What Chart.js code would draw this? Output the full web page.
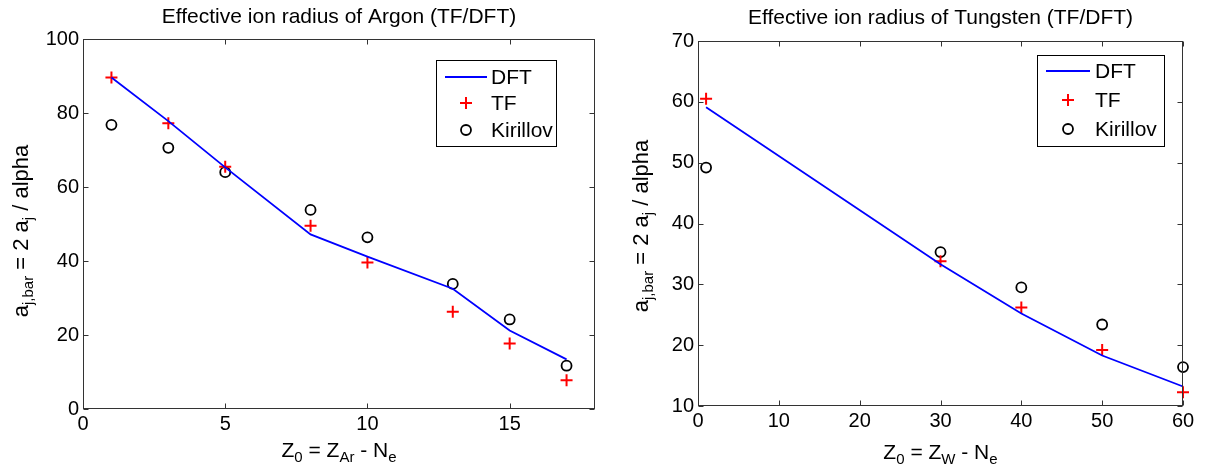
<!DOCTYPE html>
<html>
<head>
<meta charset="utf-8">
<script src="https://cdn.jsdelivr.net/npm/chart.js@4.4.1/dist/chart.umd.min.js"></script>
<style>
  html, body { margin: 0; padding: 0; background: #fff; }
  #wrap { position: relative; width: 1207px; height: 471px; overflow: hidden; background: #fff; }
  canvas { position: absolute; top: 0; }
</style>
</head>
<body>
<div id="wrap">
  <canvas id="argon" width="603" height="471" style="left:0px"></canvas>
  <canvas id="tungsten" width="604" height="471" style="left:603px"></canvas>
</div>
<script>
// ---- Argon: effective ion radius vs. ionisation degree ----
const zArgon      = [1, 3, 5, 8, 10, 13, 15, 17];
const dftArgon    = [89.6, 77.8, 65.3, 47.2, 41.2, 32.5, 21.2, 13.4];
const tfArgon     = [89.6, 77.2, 65.5, 49.5, 39.6, 26.3, 17.7, 7.8];
const kirArgon    = [76.8, 70.6, 64.0, 53.8, 46.4, 33.8, 24.2, 11.7];
const xTicksArgon = [0, 5, 10, 15];
const yTicksArgon = [0, 20, 40, 60, 80, 100];

// ---- Tungsten ----
const zTungsten      = [1, 30, 40, 50, 60];
const dftTungsten    = [59.1, 33.3, 25.2, 18.3, 13.2];
const tfTungsten     = [60.5, 33.8, 26.2, 19.2, 12.25];
const kirTungsten    = [49.2, 35.3, 29.5, 23.4, 16.4];
const xTicksTungsten = [0, 10, 20, 30, 40, 50, 60];
const yTicksTungsten = [10, 20, 30, 40, 50, 60, 70];

const seriesNames = ['DFT', 'TF', 'Kirillov'];

const FONT = '"Liberation Sans", Arial, Helvetica, sans-serif';
const AXIS_COLOR = '#333333';

// Draw a run of text pieces, some of them as subscripts, centred on (0, 0) baseline.
function drawRich(ctx, parts, size, subSize, subShift) {
  const widths = parts.map(p => {
    ctx.font = (p.sub ? subSize : size) + 'px ' + FONT;
    return ctx.measureText(p.t).width;
  });
  const total = widths.reduce((s, w) => s + w, 0);
  let x = -total / 2;
  ctx.textAlign = 'left';
  ctx.textBaseline = 'alphabetic';
  parts.forEach((p, i) => {
    ctx.font = (p.sub ? subSize : size) + 'px ' + FONT;
    ctx.fillText(p.t, x, p.sub ? subShift : 0);
    x += widths[i];
  });
}

const frameDeco = {
  id: 'frameDeco',
  afterDatasetsDraw(chart, args, o) {
    const { ctx, chartArea: a, scales } = chart;
    const xs = scales.x, ys = scales.y;
    const L = Math.round(a.left) + 0.5, R = Math.round(a.right) - 0.5;
    const T = Math.round(a.top) + 0.5, B = Math.round(a.bottom) - 0.5;
    ctx.save();
    ctx.strokeStyle = AXIS_COLOR;
    ctx.lineWidth = 1;
    ctx.strokeRect(L, T, R - L, B - T);

    // inward tick marks on all four sides
    const tl = 5;
    ctx.beginPath();
    xs.ticks.forEach(t => {
      const px = Math.round(xs.getPixelForValue(t.value)) + 0.5;
      ctx.moveTo(px, B); ctx.lineTo(px, B - tl);
      ctx.moveTo(px, T); ctx.lineTo(px, T + tl);
    });
    ys.ticks.forEach(t => {
      const py = Math.round(ys.getPixelForValue(t.value)) + 0.5;
      ctx.moveTo(L, py); ctx.lineTo(L + tl, py);
      ctx.moveTo(R, py); ctx.lineTo(R - tl, py);
    });
    ctx.stroke();

    ctx.fillStyle = '#000';
    // title
    ctx.font = o.titleSize + 'px ' + FONT;
    ctx.textAlign = 'center';
    ctx.textBaseline = 'middle';
    ctx.fillText(o.title, (a.left + a.right) / 2, o.titleY);

    // x axis label
    ctx.save();
    ctx.translate((a.left + a.right) / 2, o.xLabelY);
    drawRich(ctx, o.xLabel, 21, 15, 5);
    ctx.restore();

    // y axis label (rotated)
    ctx.save();
    ctx.translate(o.yLabelX, o.yLabelY);
    ctx.rotate(-Math.PI / 2);
    drawRich(ctx, o.yLabel, 22, 15, 5);
    ctx.restore();

    // legend box
    const lg = o.legend;
    ctx.fillStyle = '#fff';
    ctx.fillRect(lg.x0, lg.y0, lg.x1 - lg.x0, lg.y1 - lg.y0);
    ctx.strokeStyle = '#000';
    ctx.lineWidth = 1;
    ctx.strokeRect(lg.x0 + 0.5, lg.y0 + 0.5, lg.x1 - lg.x0, lg.y1 - lg.y0);
    chart.data.datasets.forEach((ds, i) => {
      const yy = lg.rows[i];
      if (ds.showLine !== false && ds.pointRadius === 0) {
        ctx.strokeStyle = ds.borderColor;
        ctx.lineWidth = ds.borderWidth;
        ctx.beginPath();
        ctx.moveTo(lg.lineX0, yy); ctx.lineTo(lg.lineX1, yy);
        ctx.stroke();
      } else {
        ctx.strokeStyle = ds.pointBorderColor;
        ctx.fillStyle = 'rgba(0,0,0,0)';
        ctx.lineWidth = ds.pointBorderWidth;
        Chart.helpers.drawPoint(ctx, {
          pointStyle: ds.pointStyle, radius: ds.pointRadius,
          rotation: 0, borderWidth: ds.pointBorderWidth
        }, (lg.lineX0 + lg.lineX1) / 2, yy);
      }
      ctx.fillStyle = '#000';
      ctx.font = '21px ' + FONT;
      ctx.textAlign = 'left';
      ctx.textBaseline = 'middle';
      ctx.fillText(ds.label, lg.textX, yy + 1);
    });
    ctx.restore();
  }
};

function makeChart(id, spec) {
  const canvas = document.getElementById(id);
  const W = canvas.width, H = canvas.height;
  const pts = (vals) => spec.z.map((v, i) => ({ x: v, y: vals[i] }));
  return new Chart(canvas, {
    type: 'scatter',
    data: {
      datasets: [
        {
          label: seriesNames[0], data: pts(spec.dft), showLine: true,
          borderColor: '#0000ff', borderWidth: 1.8, pointRadius: 0,
          pointHoverRadius: 0, fill: false, tension: 0, clip: false
        },
        {
          label: seriesNames[1], data: pts(spec.tf), showLine: false,
          pointStyle: 'cross', pointRadius: 6, pointBorderWidth: 2,
          pointBorderColor: '#ff0000', pointBackgroundColor: '#ff0000',
          borderColor: '#ff0000', clip: false
        },
        {
          label: seriesNames[2], data: pts(spec.kir), showLine: false,
          pointStyle: 'circle', pointRadius: 5, pointBorderWidth: 1.8,
          pointBorderColor: '#000000', pointBackgroundColor: 'rgba(0,0,0,0)',
          borderColor: '#000000', clip: false
        }
      ]
    },
    options: {
      responsive: false,
      animation: false,
      events: [],
      layout: { padding: { left: 0, top: spec.frame.top, right: W - spec.frame.right, bottom: 0 } },
      plugins: {
        legend: { display: false },
        tooltip: { enabled: false },
        title: { display: false },
        frameDeco: spec.deco
      },
      scales: {
        x: {
          type: 'linear', min: spec.xRange[0], max: spec.xRange[1],
          grid: { display: false, drawTicks: false },
          border: { display: false },
          ticks: { color: '#000', font: { family: FONT, size: 20 }, padding: 3, maxRotation: 0 },
          afterBuildTicks: s => { s.ticks = spec.xTicks.map(v => ({ value: v })); },
          afterFit: s => { s.height = H - spec.frame.bottom; }
        },
        y: {
          type: 'linear', min: spec.yRange[0], max: spec.yRange[1],
          grid: { display: false, drawTicks: false },
          border: { display: false },
          ticks: { color: '#000', font: { family: FONT, size: 20 }, padding: 4 },
          afterBuildTicks: s => { s.ticks = spec.yTicks.map(v => ({ value: v })); },
          afterFit: s => { s.width = spec.frame.left; }
        }
      }
    },
    plugins: [frameDeco]
  });
}

const yLabelParts = [
  { t: 'a' }, { t: 'j,bar', sub: true }, { t: ' = 2 a' }, { t: 'j', sub: true }, { t: ' / alpha' }
];

makeChart('argon', {
  z: zArgon, dft: dftArgon, tf: tfArgon, kir: kirArgon,
  xRange: [0, 18], yRange: [0, 100],
  xTicks: xTicksArgon, yTicks: yTicksArgon,
  frame: { left: 83, right: 597, top: 39, bottom: 409 },
  deco: {
    title: 'Effective ion radius of Argon (TF/DFT)', titleSize: 21, titleY: 17,
    xLabel: [{ t: 'Z' }, { t: '0', sub: true }, { t: ' = Z' }, { t: 'Ar', sub: true }, { t: ' - N' }, { t: 'e', sub: true }],
    xLabelY: 457,
    yLabel: yLabelParts, yLabelX: 28, yLabelY: 231,
    legend: { x0: 436, y0: 60, x1: 556, y1: 146, lineX0: 445, lineX1: 487, textX: 491, rows: [77, 103, 130] }
  }
});

makeChart('tungsten', {
  z: zTungsten, dft: dftTungsten, tf: tfTungsten, kir: kirTungsten,
  xRange: [0, 60], yRange: [10, 70],
  xTicks: xTicksTungsten, yTicks: yTicksTungsten,
  frame: { left: 95, right: 580, top: 41, bottom: 406 },
  deco: {
    title: 'Effective ion radius of Tungsten (TF/DFT)', titleSize: 21, titleY: 18,
    xLabel: [{ t: 'Z' }, { t: '0', sub: true }, { t: ' = Z' }, { t: 'W', sub: true }, { t: ' - N' }, { t: 'e', sub: true }],
    xLabelY: 459,
    yLabel: yLabelParts, yLabelX: 45, yLabelY: 226,
    legend: { x0: 434, y0: 55, x1: 561, y1: 146, lineX0: 443, lineX1: 487, textX: 492, rows: [71, 100, 129] }
  }
});
</script>
</body>
</html>
